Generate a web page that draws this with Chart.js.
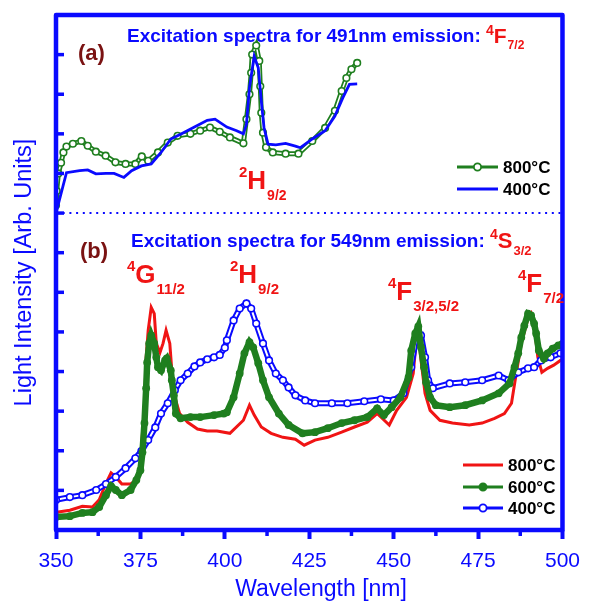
<!DOCTYPE html>
<html>
<head>
<meta charset="utf-8">
<script src="https://cdn.jsdelivr.net/npm/chart.js@4.4.0/dist/chart.umd.min.js"></script>
<style>
  html, body { margin: 0; padding: 0; background: #fff; }
  #wrap { width: 590px; height: 601px; }
</style>
</head>
<body>
<div id="wrap"><canvas id="chart" width="590" height="601"></canvas></div>
<script>
// --- data (x = wavelength nm, y = arb. units) ---

// panel (a): excitation for 491 nm emission
const a800X = [350, 350.2, 350.7, 351.5, 352.2, 353.1, 355, 357.5, 359.4, 361.8, 364.7, 367.6, 370.6, 373.5, 375.4, 377.3, 380.2, 383.1, 386, 389.8, 392.7, 395.6, 398.5, 401.5, 405.5, 406.4, 407.3, 407.8, 408.1, 409.3, 410.2, 410.5, 410.8, 411.3, 412.2, 414.2, 418, 421.8, 425.9, 429.7, 432.6, 434.6, 436, 437.5, 439.2];
const a800Y = [8.2, 8.56, 9.0, 9.27, 9.53, 9.68, 9.75, 9.82, 9.70, 9.55, 9.45, 9.28, 9.24, 9.24, 9.43, 9.32, 9.53, 9.78, 9.95, 10.0, 10.08, 10.16, 10.05, 9.91, 9.76, 10.37, 11.0, 11.54, 12.0, 12.23, 11.84, 11.2, 10.53, 10.03, 9.66, 9.53, 9.5, 9.5, 9.82, 10.15, 10.58, 11.08, 11.41, 11.63, 11.79];

const a400X = [350, 353.1, 357, 359.4, 361.8, 364.8, 367.2, 370.1, 372.4, 375.3, 378.2, 381.1, 384, 386.9, 391, 394.8, 397.1, 400.6, 403.5, 405.5, 406.4, 407.3, 408.7, 409.9, 410.8, 411.6, 412.8, 415.1, 418, 420.9, 422.4, 425.9, 429.7, 432.6, 434.9, 436.9, 439.2];
const a400Y = [8.0, 9.02, 9.07, 9.09, 8.99, 9.0, 9.0, 8.9, 9.07, 9.19, 9.24, 9.53, 9.87, 9.99, 10.17, 10.34, 10.37, 10.17, 10.08, 10.0, 10.24, 11.17, 11.96, 11.67, 10.83, 10.16, 9.74, 9.72, 9.76, 9.69, 9.65, 9.87, 10.08, 10.45, 10.9, 11.25, 11.26];

// panel (b): excitation for 549 nm emission
const b800X = [350.2, 354.1, 357.8, 360.8, 362.8, 364.8, 366.3, 367.7, 369.5, 372.1, 373.8, 375, 375.3, 376.2, 376.7, 377.3, 378.2, 379.1, 379.7, 380.8, 381.7, 382.6, 383.7, 384.3, 385.2, 386.6, 389, 391.9, 394.8, 397.7, 401.5, 405.5, 407.3, 408.7, 410.8, 413.7, 417.2, 420.9, 423.5, 426.7, 430.5, 434.6, 438.4, 442.2, 445.1, 448.7, 450.9, 453.8, 455.8, 456.7, 457.3, 458.1, 459.3, 460.8, 463.7, 467.4, 472.4, 476.2, 479.9, 482.8, 484.9, 486.3, 487.8, 489.8, 490.7, 491.9, 492.7, 493.9, 495.6, 497.4, 499.4, 500];
const b800Y = [0.45, 0.5, 0.6, 0.58, 0.76, 1.18, 1.44, 1.34, 1.16, 1.16, 1.26, 1.51, 2.09, 3.1, 4.36, 5.04, 5.62, 5.46, 4.71, 4.48, 4.71, 5.04, 4.71, 4.03, 3.35, 2.94, 2.72, 2.55, 2.5, 2.5, 2.44, 2.77, 3.15, 2.9, 2.6, 2.44, 2.34, 2.29, 2.14, 2.27, 2.34, 2.47, 2.6, 2.72, 2.94, 2.65, 3.02, 3.35, 3.95, 4.79, 4.99, 4.28, 3.45, 3.02, 2.77, 2.7, 2.65, 2.7, 2.82, 2.94, 3.2, 3.95, 4.71, 5.34, 5.46, 4.96, 4.36, 3.98, 4.08, 4.16, 4.28, 4.3];

const b600X = [350, 354.1, 357.8, 360.8, 362.8, 364.8, 366.3, 367.7, 369.5, 372.1, 373.8, 375, 375.6, 376.2, 376.7, 377, 377.6, 378.2, 379.1, 379.7, 380.2, 381.1, 382.3, 382.8, 384, 384.3, 384.9, 385.5, 386.9, 389.8, 392.7, 396.8, 399.7, 400.6, 402.6, 404.4, 405.8, 407.3, 408.4, 409.9, 411.3, 413.1, 416, 418.9, 423, 426.7, 430.5, 434.6, 438.4, 442.2, 445.1, 447.1, 449.4, 452, 454.4, 455.2, 456.4, 457.3, 458.1, 459, 459.6, 460.8, 462.5, 466.6, 471.2, 476.2, 481.1, 484.3, 485.8, 486.9, 487.8, 488.7, 489.8, 490.7, 491.6, 492.2, 493, 494.5, 495.6, 497.1, 498.8, 500];
const b600Y = [0.33, 0.35, 0.43, 0.45, 0.58, 0.88, 1.11, 1.01, 0.88, 1.01, 1.26, 1.51, 1.96, 2.7, 3.58, 4.23, 4.71, 4.91, 4.71, 4.36, 4.11, 4.03, 4.28, 4.33, 4.03, 3.78, 3.4, 2.94, 2.82, 2.85, 2.85, 2.9, 2.94, 2.97, 3.35, 3.95, 4.46, 4.74, 4.61, 4.21, 3.78, 3.35, 2.94, 2.65, 2.44, 2.47, 2.57, 2.7, 2.77, 2.85, 3.07, 2.9, 3.1, 3.35, 3.85, 4.53, 4.96, 5.14, 4.61, 4.11, 3.73, 3.35, 3.15, 3.1, 3.15, 3.27, 3.45, 3.7, 4.11, 4.46, 4.86, 5.16, 5.46, 5.42, 5.21, 4.96, 4.53, 4.33, 4.46, 4.58, 4.66, 4.7];

const b400X = [350, 354.1, 357.8, 361.9, 364.8, 367.7, 370.6, 373.5, 375.3, 377.3, 379.4, 381.1, 383.1, 385.2, 386.9, 389, 391, 392.7, 394.8, 396.8, 398.5, 400, 400.6, 402.6, 404.4, 406.4, 407.8, 409.3, 411.3, 413.1, 415.1, 417.2, 418.9, 420.9, 423.8, 426.7, 431.7, 436.3, 441.3, 446.2, 450, 452.9, 455.2, 456.7, 458.1, 459.3, 460.2, 461.6, 466.6, 471.2, 476.2, 481.1, 484, 486.9, 489.8, 491.6, 493.6, 496.5, 499.4];
const b400Y = [0.76, 0.83, 0.88, 1.01, 1.16, 1.34, 1.56, 1.81, 1.99, 2.27, 2.59, 2.94, 3.2, 3.53, 3.78, 3.95, 4.13, 4.23, 4.31, 4.36, 4.42, 4.6, 4.79, 5.29, 5.59, 5.72, 5.59, 5.21, 4.71, 4.28, 3.95, 3.78, 3.6, 3.4, 3.27, 3.2, 3.2, 3.2, 3.25, 3.3, 3.27, 3.45, 4.11, 4.86, 4.91, 4.36, 3.78, 3.58, 3.7, 3.73, 3.78, 3.9, 3.78, 3.98, 4.08, 4.11, 4.28, 4.36, 4.46];

// axes
const xMin = 350, xMax = 500, xMajor = 25, xMinor = 12.5;
const yMin = 0, yMax = 13, yTickStep = 1;
const panelSplit = 8; // dotted separator between (a) and (b)
const xTitle = 'Wavelength [nm]';
const yTitle = 'Light Intensity [Arb. Units]';

const legendA = ['800°C', '400°C'];
const legendB = ['800°C', '600°C', '400°C'];

// --- styles ---
const FONT = '"Liberation Sans", Arial, Helvetica, sans-serif';
const BLUE = '#0a0aff';
const GREEN = '#1f7f1f';
const RED = '#f01414';
const DARKRED = '#7a1212';

function pts(xs, ys) {
    return xs.map((x, i) => ({ x: x, y: ys[i] }));
}

// frame, inward y ticks, minor x ticks, separator line
const framePlugin = {
    id: 'frame',
    beforeDatasetsDraw(chart) {
        const { ctx, chartArea: ca, scales } = chart;
        const yS = scales.y.getPixelForValue(panelSplit);
        ctx.save();
        ctx.strokeStyle = BLUE;
        ctx.lineWidth = 2;
        ctx.setLineDash([2, 4.7]);
        ctx.beginPath();
        ctx.moveTo(ca.left, yS);
        ctx.lineTo(ca.right, yS);
        ctx.stroke();
        ctx.restore();
    },
    afterDatasetsDraw(chart) {
        const { ctx, chartArea: ca, scales } = chart;
        ctx.save();
        ctx.strokeStyle = BLUE;
        ctx.lineWidth = 4.5;
        ctx.lineJoin = 'round';
        ctx.strokeRect(ca.left, ca.top, ca.right - ca.left, ca.bottom - ca.top);
        // inward y ticks
        ctx.lineWidth = 3.5;
        for (let v = yMin + yTickStep; v < yMax; v += yTickStep) {
            const y = scales.y.getPixelForValue(v);
            ctx.beginPath();
            ctx.moveTo(ca.left, y);
            ctx.lineTo(ca.left + 8, y);
            ctx.stroke();
        }
        // minor x ticks (outward)
        for (let v = xMin + xMinor; v < xMax; v += xMajor) {
            const x = scales.x.getPixelForValue(v);
            ctx.beginPath();
            ctx.moveTo(x, ca.bottom);
            ctx.lineTo(x, ca.bottom + 6);
            ctx.stroke();
        }
        ctx.restore();
    }
};

// spectroscopic term: superscript, main letter, subscript
function term(ctx, x, base, sup, main, sub, s) {
    ctx.fillStyle = RED;
    ctx.textAlign = 'left';
    ctx.textBaseline = 'alphabetic';
    ctx.font = 'bold ' + s.sup + 'px ' + FONT;
    ctx.fillText(sup, x, base + s.supDy);
    let w = ctx.measureText(sup).width;
    ctx.font = 'bold ' + s.main + 'px ' + FONT;
    ctx.fillText(main, x + w, base);
    w += ctx.measureText(main).width;
    ctx.font = 'bold ' + s.sub + 'px ' + FONT;
    ctx.fillText(sub, x + w + 1, base + s.subDy);
}

function legendRow(ctx, x1, x2, y, color, marker, text) {
    ctx.strokeStyle = color;
    ctx.lineWidth = 3;
    ctx.beginPath();
    ctx.moveTo(x1, y);
    ctx.lineTo(x2, y);
    ctx.stroke();
    const mx = (x1 + x2) / 2;
    if (marker) {
        ctx.beginPath();
        ctx.arc(mx, y, 3.6, 0, Math.PI * 2);
        ctx.fillStyle = marker === 'open' ? '#fff' : color;
        ctx.fill();
        ctx.lineWidth = 1.8;
        ctx.stroke();
    }
    ctx.fillStyle = '#000';
    ctx.font = 'bold 17px ' + FONT;
    ctx.textAlign = 'left';
    ctx.textBaseline = 'middle';
    ctx.fillText(text, x2 + 5, y + 1);
}

const textPlugin = {
    id: 'texts',
    afterDraw(chart) {
        const ctx = chart.ctx;
        ctx.save();

        // x axis title (sits a little right of the plot centre in the original)
        ctx.fillStyle = BLUE;
        ctx.font = '23px ' + FONT;
        ctx.textAlign = 'center';
        ctx.textBaseline = 'middle';
        ctx.fillText(xTitle, 321, 590);

        // panel titles
        ctx.textAlign = 'left';
        ctx.textBaseline = 'alphabetic';
        ctx.font = 'bold 19px ' + FONT;
        const tA = 'Excitation spectra for 491nm emission: ';
        ctx.fillText(tA, 127, 42);
        const wA = ctx.measureText(tA).width;
        const tB = 'Excitation spectra for 549nm emission: ';
        ctx.fillText(tB, 131, 247);
        const wB = ctx.measureText(tB).width;
        term(ctx, 127 + wA, 43, '4', 'F', '7/2', { sup: 14, supDy: -8, main: 21, sub: 12, subDy: 6 });
        term(ctx, 131 + wB, 248, '4', 'S', '3/2', { sup: 14, supDy: -9, main: 22, sub: 13, subDy: 7 });

        // panel letters
        ctx.fillStyle = DARKRED;
        ctx.font = 'bold 22px ' + FONT;
        ctx.fillText('(a)', 78, 60);
        ctx.fillText('(b)', 80, 258);

        // level assignments
        const big = { sup: 15, supDy: -12, main: 26, sub: 15, subDy: 11 };
        term(ctx, 239, 189, '2', 'H', '9/2', { sup: 15, supDy: -12, main: 26, sub: 14, subDy: 11 });
        term(ctx, 127, 283, '4', 'G', '11/2', big);
        term(ctx, 230, 283, '2', 'H', '9/2', big);
        term(ctx, 388, 300, '4', 'F', '3/2,5/2', big);
        term(ctx, 518, 292, '4', 'F', '7/2', big);

        // legends
        legendRow(ctx, 457, 498, 167, GREEN, 'open', legendA[0]);
        legendRow(ctx, 457, 498, 189, BLUE, null, legendA[1]);
        legendRow(ctx, 463, 503, 465, RED, null, legendB[0]);
        legendRow(ctx, 463, 503, 487, GREEN, 'filled', legendB[1]);
        legendRow(ctx, 463, 503, 508, BLUE, 'open', legendB[2]);

        ctx.restore();
    }
};

// dense open-circle series are shown as a coloured band with a white core plus markers
const openMarks = (color) => ({
    showLine: false, pointRadius: 3.3, pointBorderWidth: 1.6,
    pointBackgroundColor: '#fff', pointBorderColor: color
});

const chart = new Chart(document.getElementById('chart'), {
    type: 'line',
    data: {
        datasets: [
            // (a) 400 °C line
            { label: 'a400', data: pts(a400X, a400Y), borderColor: BLUE, borderWidth: 2.8, pointRadius: 0, order: 0 },
            // (a) 800 °C open circles
            Object.assign({ label: 'a800', data: pts(a800X, a800Y), order: 1 }, openMarks(GREEN)),
            { label: 'a800 core', data: pts(a800X, a800Y), borderColor: '#fff', borderWidth: 1.5, pointRadius: 0, order: 2 },
            { label: 'a800 band', data: pts(a800X, a800Y), borderColor: GREEN, borderWidth: 5, pointRadius: 0, order: 3 },
            // (b) 600 °C filled circles
            { label: 'b600', data: pts(b600X, b600Y), borderColor: GREEN, borderWidth: 6.5,
              pointRadius: 3.9, pointBorderWidth: 0, pointBackgroundColor: GREEN, order: 10 },
            // (b) 400 °C open circles
            Object.assign({ label: 'b400', data: pts(b400X, b400Y), order: 11 }, openMarks(BLUE)),
            { label: 'b400 core', data: pts(b400X, b400Y), borderColor: '#fff', borderWidth: 2, pointRadius: 0, order: 12 },
            { label: 'b400 band', data: pts(b400X, b400Y), borderColor: BLUE, borderWidth: 6, pointRadius: 0, order: 13 },
            // (b) 800 °C line
            { label: 'b800', data: pts(b800X, b800Y), borderColor: RED, borderWidth: 3, pointRadius: 0, order: 14 }
        ]
    },
    options: {
        responsive: false,
        animation: false,
        events: [],
        devicePixelRatio: 1,
        layout: { padding: { top: 15, right: 18, left: 0, bottom: 0 } },
        plugins: {
            legend: { display: false },
            tooltip: { enabled: false }
        },
        scales: {
            x: {
                type: 'linear',
                min: xMin,
                max: xMax,
                afterFit(scale) { scale.height = 71; },
                ticks: {
                    stepSize: xMajor,
                    color: BLUE,
                    padding: 10,
                    font: { family: FONT, size: 21 }
                },
                grid: {
                    drawOnChartArea: false,
                    drawTicks: true,
                    tickLength: 9,
                    tickWidth: 4,
                    tickColor: BLUE
                },
                border: { display: false },
                title: { display: false }
            },
            y: {
                type: 'linear',
                min: yMin,
                max: yMax,
                afterFit(scale) { scale.width = 56; },
                ticks: { display: false },
                grid: { display: false },
                border: { display: false },
                title: {
                    display: true,
                    text: yTitle,
                    color: BLUE,
                    padding: { top: 10, bottom: 0 },
                    font: { family: FONT, size: 23.5, lineHeight: 1.2 }
                }
            }
        }
    },
    plugins: [framePlugin, textPlugin]
});
</script>
</body>
</html>
